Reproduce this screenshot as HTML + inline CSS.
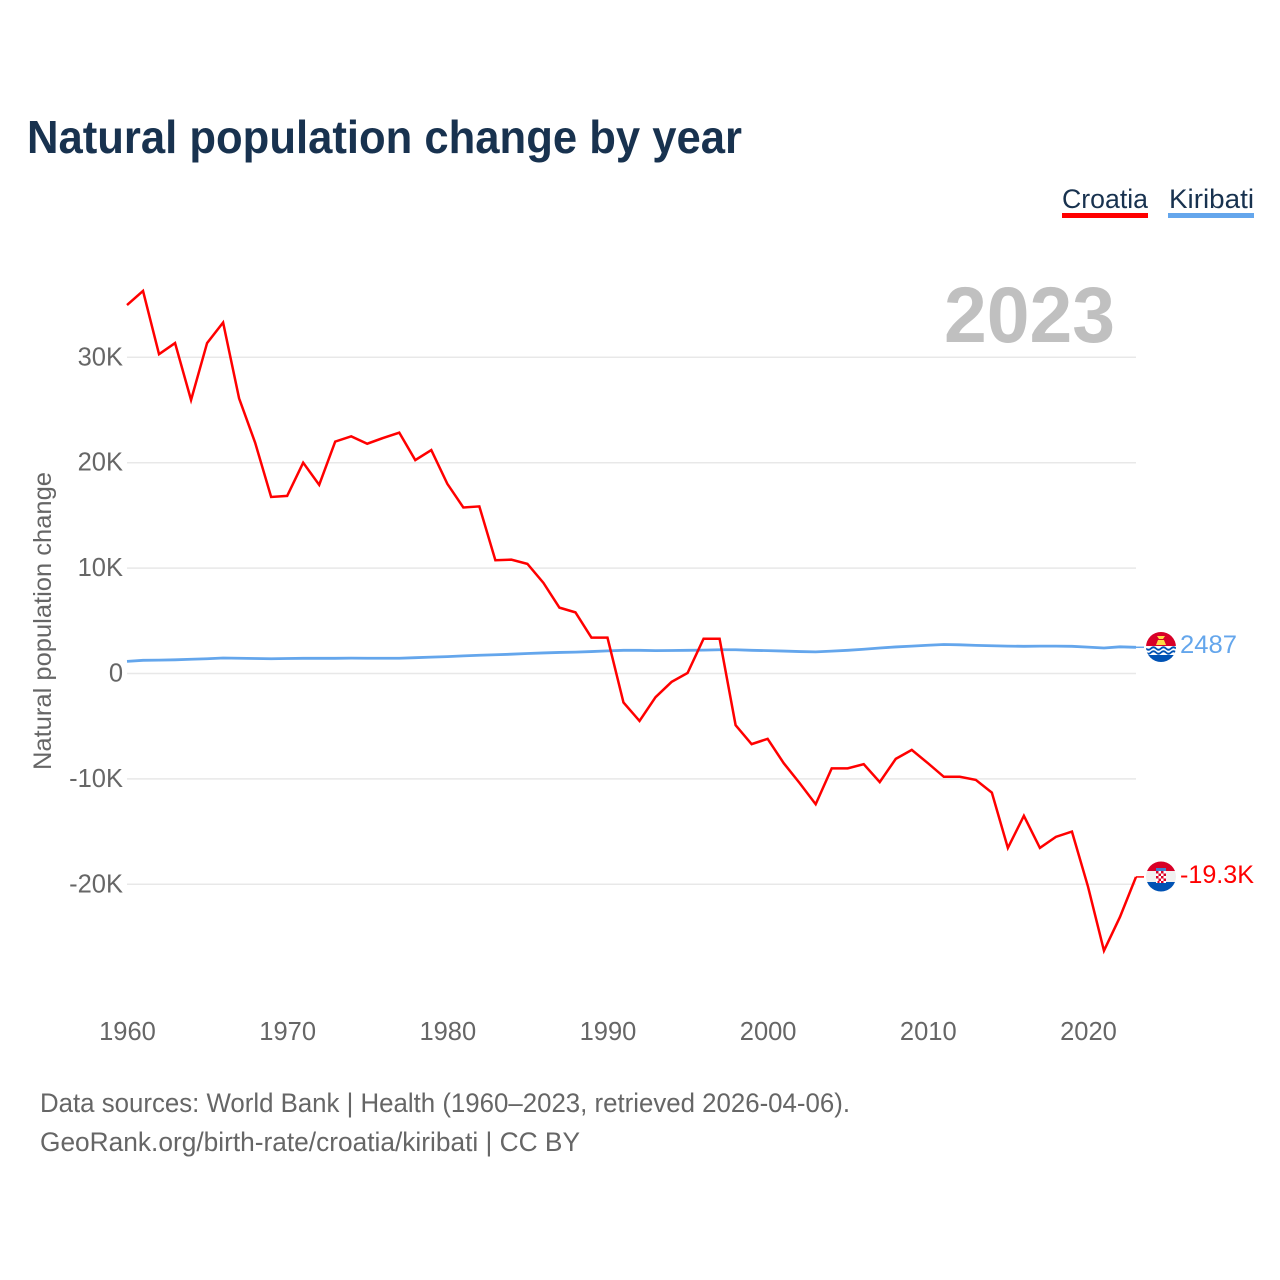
<!DOCTYPE html>
<html lang="en">
<head>
<meta charset="utf-8">
<title>Natural population change by year</title>
<style>
html,body{margin:0;padding:0;background:#fff}
svg{display:block}
text{font-family:"Liberation Sans",sans-serif}
</style>
</head>
<body>
<svg id="chart" xmlns="http://www.w3.org/2000/svg" width="1280" height="1280" viewBox="0 0 1280 1280">
  <rect width="1280" height="1280" fill="#fff"/>
  <text x="27" y="153" font-size="46" font-weight="700" fill="#18324f" textLength="715" lengthAdjust="spacingAndGlyphs">Natural population change by year</text>

  <g>
    <text x="1062" y="208" font-size="27" fill="#18324f" textLength="86" lengthAdjust="spacingAndGlyphs">Croatia</text>
    <rect x="1062" y="213" width="86" height="5" fill="#ff0000"/>
  </g>
  <g>
    <text x="1169" y="208" font-size="27" fill="#18324f" textLength="85" lengthAdjust="spacingAndGlyphs">Kiribati</text>
    <rect x="1168" y="213" width="86" height="5" fill="#64a6ec"/>
  </g>

  <text x="944" y="342" font-size="79" font-weight="700" fill="#c0c0c0" textLength="171" lengthAdjust="spacingAndGlyphs">2023</text>
  <text transform="translate(51 770) rotate(-90)" font-size="25" fill="#666" textLength="298" lengthAdjust="spacingAndGlyphs">Natural population change</text>

  <g id="grid"></g>
  <g id="yaxis"></g>
  <g id="xaxis"></g>
  <g id="series"></g>

  <defs>
    <clipPath id="clip-ki"><circle cx="1161" cy="647" r="15"/></clipPath>
    <clipPath id="clip-hr"><circle cx="1161" cy="876.5" r="15"/></clipPath>
  </defs>
  <circle cx="1161" cy="647" r="15.5" fill="#fff"/>
  <g clip-path="url(#clip-ki)">
    <rect x="1146" y="632" width="30" height="14" fill="#d80027"/>
    <rect x="1146" y="646" width="30" height="16" fill="#fff"/>
    <rect x="1146" y="655" width="30" height="7" fill="#0052b4"/>
    <path d="M1157 636h8l-2 3h-4zM1158 640h6l2 5h-10z" fill="#ffda44"/>
    <path d="M1146 648.500q2.500 2.500 5 0t5 0t5 0t5 0t5 0t5 0" fill="none" stroke="#0052b4" stroke-width="1.800"/>
    <path d="M1146 652.500q2.500 2.500 5 0t5 0t5 0t5 0t5 0t5 0" fill="none" stroke="#0052b4" stroke-width="1.800"/>
  </g>
  <circle cx="1161" cy="876.5" r="15.5" fill="#fff"/>
  <g clip-path="url(#clip-hr)">
    <rect x="1146" y="861" width="30" height="10" fill="#d80027"/>
    <rect x="1146" y="871" width="30" height="11" fill="#f0f0f0"/>
    <rect x="1146" y="882" width="30" height="11" fill="#0052b4"/>
    <rect x="1156" y="868" width="10" height="3.500" fill="#3f7fd0"/>
    <rect x="1156" y="871" width="10" height="12" fill="#fff"/>
    <path d="M1156 871h2.500v2.500h-2.500zM1161 871h2.500v2.500h-2.500zM1158.500 873.500h2.500v2.500h-2.500zM1163.500 873.500h2.500v2.500h-2.500zM1156 876h2.500v2.500h-2.500zM1161 876h2.500v2.500h-2.500zM1158.500 878.500h2.500v2.500h-2.500zM1163.500 878.500h2.500v2.500h-2.500zM1161 881h2.500v2h-2.500zM1157.500 881h2v2h-2z" fill="#d80027"/>
  </g>

  <text x="1180" y="653" font-size="25" fill="#64a6ec" textLength="57" lengthAdjust="spacingAndGlyphs">2487</text>
  <text x="1180" y="883" font-size="25" fill="#ff0000" textLength="74" lengthAdjust="spacingAndGlyphs">-19.3K</text>

  <text x="40" y="1112" font-size="27" fill="#666" textLength="810" lengthAdjust="spacingAndGlyphs">Data sources: World Bank | Health (1960–2023, retrieved 2026-04-06).</text>
  <text x="40" y="1151" font-size="27" fill="#666" textLength="540" lengthAdjust="spacingAndGlyphs">GeoRank.org/birth-rate/croatia/kiribati | CC BY</text>
</svg>
<script>
const startYear = 1960;
const croatiaValues = [34960,36300,30300,31350,25950,31350,33300,26100,21900,16750,16850,20000,17900,22000,22500,21800,22350,22850,20250,21200,18000,15750,15850,10750,10800,10400,8600,6250,5800,3400,3400,-2750,-4500,-2250,-800,50,3300,3300,-4900,-6700,-6200,-8500,-10400,-12400,-9000,-9000,-8600,-10300,-8100,-7250,-8500,-9800,-9800,-10100,-11300,-16550,-13500,-16550,-15500,-15000,-20200,-26300,-23100,-19300];
const kiribatiValues = [1150,1250,1270,1300,1350,1400,1470,1450,1420,1400,1420,1440,1440,1440,1460,1450,1450,1450,1500,1550,1600,1670,1730,1780,1830,1900,1950,2000,2030,2080,2150,2200,2200,2170,2180,2200,2220,2250,2250,2200,2170,2130,2080,2050,2120,2200,2300,2420,2520,2600,2680,2750,2720,2670,2630,2600,2580,2600,2600,2580,2500,2420,2530,2487];
const yTickValues = [30000,20000,10000,0,-10000,-20000];
const yTickLabels = ["30K","20K","10K","0","-10K","-20K"];
const xTickValues = [1960,1970,1980,1990,2000,2010,2020];

const NS = "http://www.w3.org/2000/svg";
function xScale(year){ return 127 + (year - 1960) * (1136 - 127) / 63; }
function yScale(v){ return 673.5 - v * 10.54 / 1000; }

const grid = document.getElementById("grid");
const yaxis = document.getElementById("yaxis");
const xaxis = document.getElementById("xaxis");
const series = document.getElementById("series");

yTickValues.forEach(function(v, i){
  const line = document.createElementNS(NS, "line");
  
  
  line.setAttribute("x1", xScale(1960));
  line.setAttribute("x2", xScale(2023));
  line.setAttribute("y1", yScale(v));
  line.setAttribute("y2", yScale(v));
  line.setAttribute("stroke", "#e8e8e8");
  line.setAttribute("stroke-width", "1.5");
  grid.appendChild(line);

  const t = document.createElementNS(NS, "text");
  
  
  t.setAttribute("x", 123);
  t.setAttribute("y", yScale(v) + 8);
  t.setAttribute("text-anchor", "end");
  t.setAttribute("font-size", "25.5");
  t.setAttribute("fill", "#666");
  t.textContent = yTickLabels[i];
  yaxis.appendChild(t);
});

xTickValues.forEach(function(year){
  const t = document.createElementNS(NS, "text");
  
  
  t.setAttribute("x", xScale(year) + 0.5);
  t.setAttribute("y", 1040);
  t.setAttribute("text-anchor", "middle");
  t.setAttribute("font-size", "25.5");
  t.setAttribute("fill", "#666");
  t.textContent = String(year);
  xaxis.appendChild(t);
});

function pointsFor(values){
  return values.map(function(v, i){
    return xScale(startYear + i).toFixed(2) + "," + yScale(v).toFixed(2);
  }).join(" ");
}
function lastY(values){ return yScale(values[values.length - 1]); }

const kiribatiLine = document.createElementNS(NS, "polyline");


kiribatiLine.setAttribute("points", pointsFor(kiribatiValues));
kiribatiLine.setAttribute("fill", "none");
kiribatiLine.setAttribute("stroke", "#64a6ec");
kiribatiLine.setAttribute("stroke-width", "2.8");
series.appendChild(kiribatiLine);

const croatiaLine = document.createElementNS(NS, "polyline");


croatiaLine.setAttribute("points", pointsFor(croatiaValues));
croatiaLine.setAttribute("fill", "none");
croatiaLine.setAttribute("stroke", "#ff0000");
croatiaLine.setAttribute("stroke-width", "2.5");
series.appendChild(croatiaLine);

const kiribatiConnector = document.createElementNS(NS, "line");


kiribatiConnector.setAttribute("x1", xScale(2023));
kiribatiConnector.setAttribute("x2", 1144);
kiribatiConnector.setAttribute("y1", lastY(kiribatiValues));
kiribatiConnector.setAttribute("y2", lastY(kiribatiValues));
kiribatiConnector.setAttribute("stroke", "#64a6ec");
kiribatiConnector.setAttribute("stroke-width", "1.5");
series.appendChild(kiribatiConnector);

const croatiaConnector = document.createElementNS(NS, "line");


croatiaConnector.setAttribute("x1", xScale(2023));
croatiaConnector.setAttribute("x2", 1144);
croatiaConnector.setAttribute("y1", lastY(croatiaValues));
croatiaConnector.setAttribute("y2", lastY(croatiaValues));
croatiaConnector.setAttribute("stroke", "#ff0000");
croatiaConnector.setAttribute("stroke-width", "1.5");
series.appendChild(croatiaConnector);
</script>
</body>
</html>
